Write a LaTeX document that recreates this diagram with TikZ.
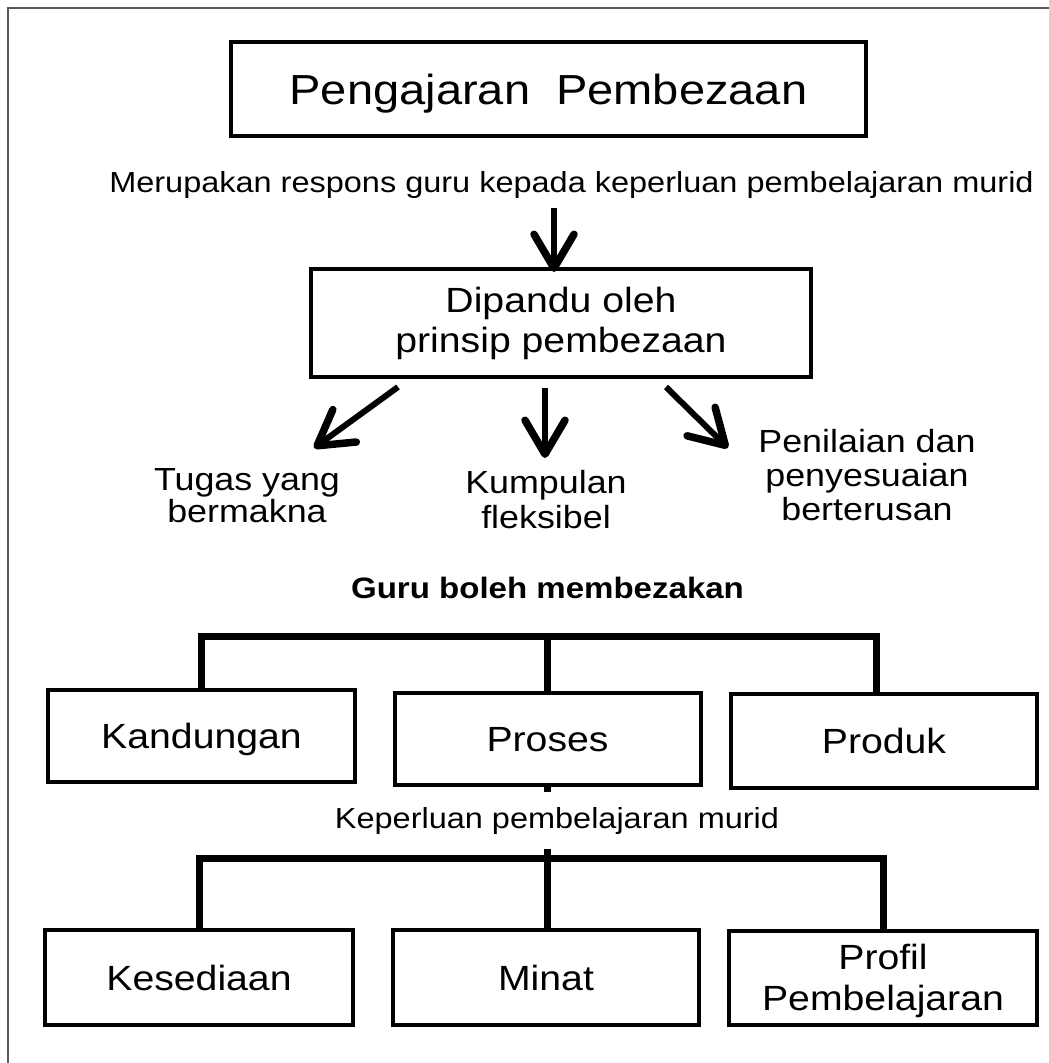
\documentclass[tikz,border=0pt]{standalone}
\usepackage{fontspec}
\setmainfont{Liberation Sans}[FakeStretch=1.12]
\usetikzlibrary{arrows.meta,calc}
\tikzset{
  boxnode/.style={draw, line width=4pt, inner sep=0pt, align=center},
  onebox/.style={boxnode, text height=25pt, text depth=0pt},
  txt/.style={inner sep=0pt, anchor=base, align=center},
  brk/.style={line width=7pt, line cap=rect},
  arr/.style={line width=6pt, line join=round, -{Straight Barb[length=34pt,width=40pt,round,line width=7.5pt]}},
  frameline/.style={black!65, line width=1.5pt}
}
\begin{document}
\begin{tikzpicture}[x=1pt,y=-1pt]
\useasboundingbox (0,0) rectangle (1049,1063);
\draw[frameline] (8,1063) -- (8,8) -- (1049,8);

% title
\node[boxnode, minimum width=635pt, minimum height=94pt, text height=30pt, text depth=0pt,
  font=\fontsize{42pt}{48pt}\selectfont] (title) at (548.5,89) {Pengajaran\ \ Pembezaan};

\node[txt, font=\fontsize{29pt}{34pt}\selectfont] (mer) at (571.5,192)
  {Merupakan respons guru kepada keperluan pembelajaran murid};

\node[boxnode, minimum width=500pt, minimum height=108pt,
  font=\fontsize{35pt}{40pt}\selectfont] (prin) at (561,323)
  {Dipandu oleh\\prinsip pembezaan};

\coordinate (t1) at (554,208);
\draw[arr] (t1) -- (554,272);

% three principles (base anchor = last line baseline)
\node[txt, font=\fontsize{32pt}{32pt}\selectfont] (tugas) at (247,522) {Tugas yang\\bermakna};
\node[txt, font=\fontsize{32pt}{35pt}\selectfont] (kump) at (546,528) {Kumpulan\\fleksibel};
\node[txt, font=\fontsize{32pt}{34pt}\selectfont] (nilai) at (867,520) {Penilaian dan\\penyesuaian\\berterusan};

\coordinate (l1) at (398,387); \coordinate (l2) at (314,448);
\coordinate (m1) at (545,388); \coordinate (m2) at (545,458);
\coordinate (r1) at (666,387); \coordinate (r2) at (728,448);
\draw[arr] (l1) -- (l2);
\draw[arr] (m1) -- (m2);
\draw[arr] (r1) -- (r2);

\node[txt, font=\bfseries\fontsize{29.5pt}{34pt}\selectfont] (guru) at (547.5,598) {Guru boleh membezakan};

% first row
\node[onebox, minimum width=307pt, minimum height=92pt, font=\fontsize{35pt}{40pt}\selectfont] (kand) at (201.5,736) {Kandungan};
\node[onebox, minimum width=306pt, minimum height=92pt, font=\fontsize{35pt}{40pt}\selectfont] (pros) at (547.5,739) {Proses};
\node[onebox, minimum width=306pt, minimum height=94pt, font=\fontsize{35pt}{40pt}\selectfont] (prod) at (884,741) {Produk};

\coordinate (b1) at (547.5,636);
\draw[brk] (kand.north) |- (b1) -| ([xshift=-8pt]prod.north);
\draw[brk] (b1) -- (pros.north);

% second row
\node[onebox, minimum width=308pt, minimum height=95pt, font=\fontsize{35pt}{40pt}\selectfont] (kes) at (199,977.5) {Kesediaan};
\node[onebox, minimum width=306pt, minimum height=95pt, font=\fontsize{35pt}{40pt}\selectfont] (minat) at (546,977.5) {Minat};
\node[boxnode, minimum width=308pt, minimum height=94pt, font=\fontsize{35pt}{41pt}\selectfont] (prof) at (883,978) {\rule{0pt}{31.5pt}Profil\\Pembelajaran};

\coordinate (b2) at (547.5,858);
\draw[brk] (kes.north) |- (b2) -| (prof.north);
\draw[brk] (b2) -- (b2 |- minat.north);
\draw[brk] (pros.south) -- (b2);

\node[txt, fill=white, inner xsep=4pt, inner ysep=15pt, font=\fontsize{29pt}{34pt}\selectfont] (kep) at (557,828) {Keperluan pembelajaran murid};
\end{tikzpicture}
\end{document}
